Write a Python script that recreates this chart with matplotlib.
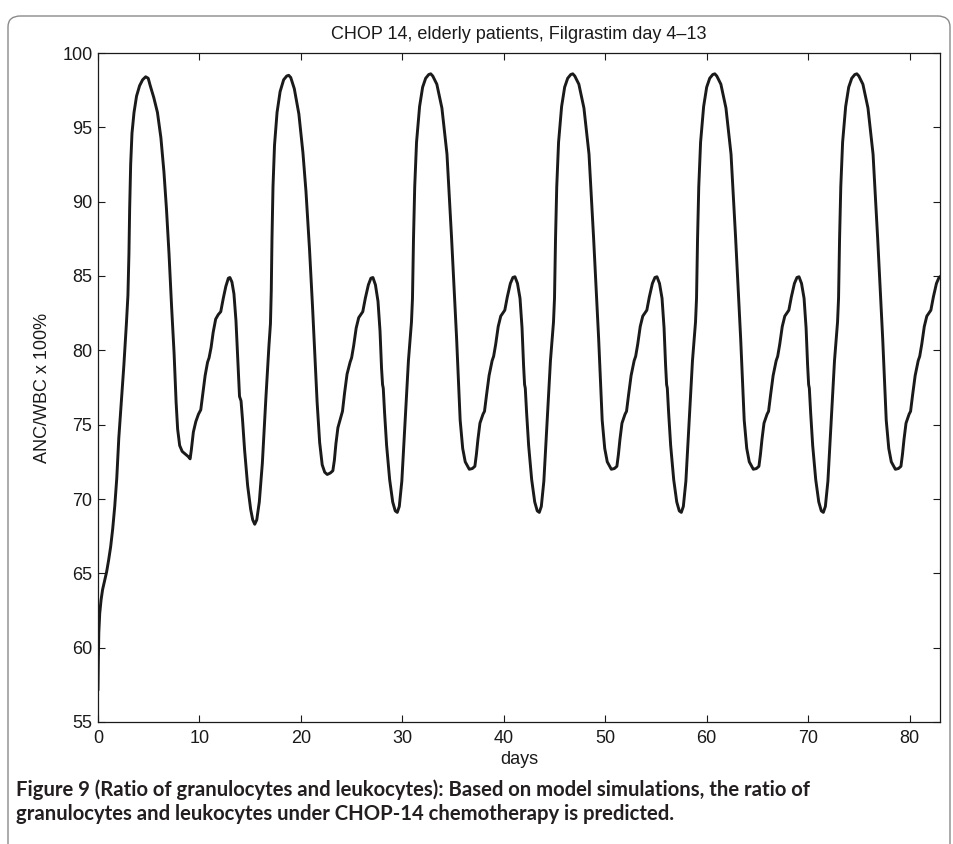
import matplotlib
matplotlib.use('Agg')
import matplotlib.pyplot as plt
from matplotlib.patches import FancyBboxPatch

# ANC/WBC ratio (%), one row per 14-day CHOP cycle
days = [
    0.00, 0.03, 0.08, 0.17, 0.30, 0.45, 0.65, 0.85, 1.05, 1.25, 1.45, 1.65, 1.85, 2.05, 2.30,
    2.55, 2.80, 2.95, 3.05, 3.12, 3.22, 3.35, 3.55, 3.80, 4.10, 4.40, 4.70, 4.95, 5.15, 5.50,
    5.86, 6.20, 6.50, 6.75, 7.00, 7.25, 7.50, 7.70, 7.85, 8.05, 8.30, 8.65, 8.90, 9.08, 9.20,
    9.40, 9.64, 9.90, 10.13, 10.35, 10.56, 10.80, 10.95, 11.15, 11.35, 11.60, 11.85, 12.10,
    12.35, 12.60, 12.85, 13.00, 13.20, 13.40, 13.60, 13.80, 13.95,
    14.10, 14.25, 14.45, 14.75, 15.05, 15.25, 15.45, 15.65, 15.90, 16.20, 16.55, 16.85, 17.00,
    17.08, 17.15, 17.25, 17.40, 17.65, 17.95, 18.30, 18.60, 18.80, 19.00, 19.35, 19.80, 20.20,
    20.50, 20.85, 21.15, 21.40, 21.60, 21.85, 22.10, 22.35, 22.60, 22.90, 23.15, 23.30, 23.45,
    23.65, 23.90, 24.10, 24.30, 24.55, 24.85, 25.00, 25.20, 25.45, 25.70, 26.00, 26.10, 26.35,
    26.65, 26.90, 27.10, 27.35, 27.60, 27.80, 27.95, 28.05,
    28.12, 28.25, 28.45, 28.75, 29.05, 29.30, 29.50, 29.70, 29.95, 30.25, 30.60, 30.90, 31.00,
    31.10, 31.22, 31.40, 31.70, 32.00, 32.30, 32.60, 32.80, 33.00, 33.40, 33.90, 34.40, 34.85,
    35.35, 35.70, 35.95, 36.20, 36.60, 36.90, 37.15, 37.30, 37.45, 37.65, 37.95, 38.10, 38.30,
    38.55, 38.85, 39.00, 39.20, 39.45, 39.70, 40.00, 40.10, 40.35, 40.65, 40.90, 41.10, 41.35,
    41.60, 41.80, 41.95, 42.05,
    42.12, 42.25, 42.45, 42.75, 43.05, 43.30, 43.50, 43.70, 43.95, 44.25, 44.60, 44.90, 45.00,
    45.10, 45.22, 45.40, 45.70, 46.00, 46.30, 46.60, 46.80, 47.00, 47.40, 47.90, 48.40, 48.85,
    49.35, 49.70, 49.95, 50.20, 50.60, 50.90, 51.15, 51.30, 51.45, 51.65, 51.95, 52.10, 52.30,
    52.55, 52.85, 53.00, 53.20, 53.45, 53.70, 54.00, 54.10, 54.35, 54.65, 54.90, 55.10, 55.35,
    55.60, 55.80, 55.95, 56.05,
    56.12, 56.25, 56.45, 56.75, 57.05, 57.30, 57.50, 57.70, 57.95, 58.25, 58.60, 58.90, 59.00,
    59.10, 59.22, 59.40, 59.70, 60.00, 60.30, 60.60, 60.80, 61.00, 61.40, 61.90, 62.40, 62.85,
    63.35, 63.70, 63.95, 64.20, 64.60, 64.90, 65.15, 65.30, 65.45, 65.65, 65.95, 66.10, 66.30,
    66.55, 66.85, 67.00, 67.20, 67.45, 67.70, 68.00, 68.10, 68.35, 68.65, 68.90, 69.10, 69.35,
    69.60, 69.80, 69.95, 70.05,
    70.12, 70.25, 70.45, 70.75, 71.05, 71.30, 71.50, 71.70, 71.95, 72.25, 72.60, 72.90, 73.00,
    73.10, 73.22, 73.40, 73.70, 74.00, 74.30, 74.60, 74.80, 75.00, 75.40, 75.90, 76.40, 76.85,
    77.35, 77.70, 77.95, 78.20, 78.60, 78.90, 79.15, 79.30, 79.45, 79.65, 79.95, 80.10, 80.30,
    80.55, 80.85, 81.00, 81.20, 81.45, 81.70, 82.00, 82.10, 82.35, 82.65, 82.90, 83.00,
]

ratio = [
    57.2, 59.0, 61.0, 62.3, 63.2, 63.9, 64.5, 65.1, 65.9, 66.8, 68.0, 69.5, 71.4, 74.1, 76.6,
    79.0, 81.8, 83.7, 86.5, 89.5, 92.5, 94.6, 96.0, 97.1, 97.8, 98.2, 98.4, 98.3, 97.8, 97.0,
    96.0, 94.3, 92.0, 89.5, 86.5, 83.0, 79.8, 76.5, 74.7, 73.6, 73.2, 73.0, 72.85, 72.7, 73.3,
    74.5, 75.2, 75.7, 76.0, 77.2, 78.3, 79.2, 79.5, 80.2, 81.2, 82.1, 82.4, 82.6,
    83.5, 84.3, 84.85, 84.9, 84.6, 83.8, 82.0, 79.0, 76.9,
    76.6, 75.3, 73.3, 70.9, 69.3, 68.6, 68.3, 68.6, 69.8, 72.4, 76.8, 80.3, 81.8,
    84.0, 87.5, 91.0, 93.8, 96.0, 97.4, 98.2, 98.45, 98.5, 98.35, 97.6, 95.9, 93.3,
    90.7, 86.8, 82.9, 79.4, 76.5, 73.8, 72.3, 71.8, 71.65, 71.75, 71.9, 72.6, 73.7,
    74.8, 75.4, 75.9, 77.1, 78.4, 79.2, 79.5, 80.3, 81.5, 82.2, 82.5, 82.6, 83.5,
    84.4, 84.85, 84.9, 84.4, 83.3, 81.3, 78.8, 77.7,
    77.45, 75.8, 73.6, 71.3, 69.8, 69.2, 69.1, 69.5, 71.2, 74.9, 79.3, 81.9, 83.5,
    87.5, 91.0, 94.0, 96.4, 97.7, 98.3, 98.55, 98.6, 98.45, 97.9, 96.3, 93.2, 87.6,
    80.8, 75.3, 73.4, 72.5, 72.0, 72.05, 72.2, 73.0, 74.0, 75.1, 75.7, 75.9, 77.0,
    78.3, 79.3, 79.6, 80.4, 81.6, 82.3, 82.6, 82.7, 83.6, 84.5, 84.9, 84.95, 84.5,
    83.5, 81.5, 79.0, 77.7,
    77.45, 75.8, 73.6, 71.3, 69.8, 69.2, 69.1, 69.5, 71.2, 74.9, 79.3, 81.9, 83.5,
    87.5, 91.0, 94.0, 96.4, 97.7, 98.3, 98.55, 98.6, 98.45, 97.9, 96.3, 93.2, 87.6,
    80.8, 75.3, 73.4, 72.5, 72.0, 72.05, 72.2, 73.0, 74.0, 75.1, 75.7, 75.9, 77.0,
    78.3, 79.3, 79.6, 80.4, 81.6, 82.3, 82.6, 82.7, 83.6, 84.5, 84.9, 84.95, 84.5,
    83.5, 81.5, 79.0, 77.7,
    77.45, 75.8, 73.6, 71.3, 69.8, 69.2, 69.1, 69.5, 71.2, 74.9, 79.3, 81.9, 83.5,
    87.5, 91.0, 94.0, 96.4, 97.7, 98.3, 98.55, 98.6, 98.45, 97.9, 96.3, 93.2, 87.6,
    80.8, 75.3, 73.4, 72.5, 72.0, 72.05, 72.2, 73.0, 74.0, 75.1, 75.7, 75.9, 77.0,
    78.3, 79.3, 79.6, 80.4, 81.6, 82.3, 82.6, 82.7, 83.6, 84.5, 84.9, 84.95, 84.5,
    83.5, 81.5, 79.0, 77.7,
    77.45, 75.8, 73.6, 71.3, 69.8, 69.2, 69.1, 69.5, 71.2, 74.9, 79.3, 81.9, 83.5,
    87.5, 91.0, 94.0, 96.4, 97.7, 98.3, 98.55, 98.6, 98.45, 97.9, 96.3, 93.2, 87.6,
    80.8, 75.3, 73.4, 72.5, 72.0, 72.05, 72.2, 73.0, 74.0, 75.1, 75.7, 75.9, 77.0,
    78.3, 79.3, 79.6, 80.4, 81.6, 82.3, 82.6, 82.7, 83.6, 84.5, 84.9, 84.95,
]

x_ticks = [0, 10, 20, 30, 40, 50, 60, 70, 80]
y_ticks = [55, 60, 65, 70, 75, 80, 85, 90, 95, 100]

title = 'CHOP 14, elderly patients, Filgrastim day 4\u201313'
caption = [
    'Figure 9 (Ratio of granulocytes and leukocytes): Based on model simulations, the ratio of',
    'granulocytes and leukocytes under CHOP-14 chemotherapy is predicted.',
]

plt.rcParams['font.family'] = ['Liberation Sans', 'DejaVu Sans']
INK = '#1a1a1a'
FS = 13

W, H, dpi = 954, 844, 100
fig = plt.figure(figsize=(W / dpi, H / dpi), dpi=dpi)

# light grey frame around the figure, open at the bottom
frame = FancyBboxPatch((8 / W, -0.2), 942 / W, 1.2 - 16 / H,
                       boxstyle='round,pad=0,rounding_size=0.013',
                       transform=fig.transFigure, fill=False,
                       edgecolor='#8a8a8a', linewidth=1.0)
fig.patches.append(frame)

ax_top, ax_bot = 53, 722
ax = fig.add_axes([98 / W, 1 - ax_bot / H, 842 / W, (ax_bot - ax_top) / H])
ax.plot(days, ratio, color=INK, linewidth=2.1, solid_joinstyle='round')

ax.set_xlim(0, 83)
ax.set_ylim(55, 100)
ax.set_xticks(x_ticks)
ax.set_yticks(y_ticks)
ax.tick_params(direction='in', top=True, right=True, length=5, width=0.8,
               labelsize=FS, colors=INK)
ax.tick_params(axis='x', pad=6)
ax.tick_params(axis='y', pad=4)
for s in ax.spines.values():
    s.set_linewidth(0.9)
    s.set_color(INK)

ax.set_title(title, fontsize=FS, color=INK, pad=10)
ax.set_xlabel('days', fontsize=FS, color=INK, labelpad=3)
ax.set_ylabel('ANC/WBC x 100%', fontsize=FS, color=INK, labelpad=8)

# caption, sized so the first line spans the same width as in the reference
cap_kw = dict(fontweight='bold', family=['Lato', 'DejaVu Sans'], color='#231f20', va='center')
probe = fig.text(0, 0, caption[0], fontsize=10, **cap_kw)
renderer = fig.canvas.get_renderer()
cap_fs = 10 * 797 / probe.get_window_extent(renderer).width
probe.remove()
fig.text(16 / W, 1 - 790 / H, caption[0], fontsize=cap_fs, **cap_kw)
fig.text(16 / W, 1 - 814 / H, caption[1], fontsize=cap_fs, **cap_kw)

fig.savefig('out.png', dpi=dpi)
